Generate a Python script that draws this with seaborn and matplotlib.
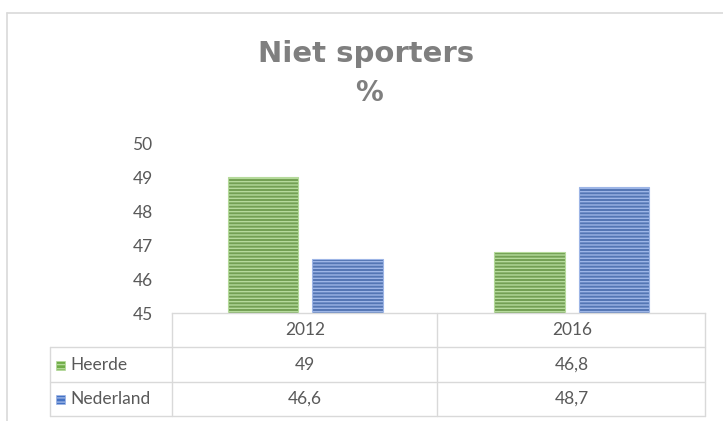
import pandas as pd
import seaborn as sns
import matplotlib.pyplot as plt
from matplotlib.patches import Rectangle
from matplotlib.lines import Line2D
from matplotlib.transforms import blended_transform_factory

# data
jaren = ['2012', '2016']
heerde = [49, 46.8]
nederland = [46.6, 48.7]
regios = ['Heerde', 'Nederland']
kleuren = ['#70AD47', '#4472C4']
streep = ['#B5DA9B', '#9DB5E6']

W, H = 723, 421

def fx(x):
    return x / W

def fy(y):
    return 1 - y / H

df = pd.DataFrame({
    'jaar': jaren * 2,
    'regio': [regios[0]] * len(jaren) + [regios[1]] * len(jaren),
    'pct': heerde + nederland,
})

sns.set_style('white')
plt.rcParams['font.family'] = ['Lato', 'DejaVu Sans']
plt.rcParams['hatch.linewidth'] = 1.0

fig = plt.figure(figsize=(W / 100, H / 100), dpi=100)
ax = fig.add_axes([fx(172), fy(313), fx(705) - fx(172), fy(143) - fy(313)])

sns.barplot(data=df, x='jaar', y='pct', hue='regio', palette=kleuren,
            width=0.634, gap=0.167, ax=ax, legend=False)

# horizontal stripe pattern like the Excel fill
for i, regio in enumerate(regios):
    for bar in ax.containers[i]:
        bar.set_hatch('-----')
        bar.set_edgecolor(streep[i])
        bar.set_linewidth(0.8)

ax.set_ylim(45, 50)
ax.set_xlim(-0.5, 1.5)
ax.set_yticks(range(45, 51))
ax.tick_params(axis='y', length=0, pad=14, labelsize=12.5, labelcolor='#595959')
ax.set_xticks([])
ax.set_xlabel('')
ax.set_ylabel('')
for s in ['left', 'right', 'top']:
    ax.spines[s].set_visible(False)
ax.spines['bottom'].set_color('#D9D9D9')
ax.spines['bottom'].set_linewidth(1)

# outer frame of the chart
fig.add_artist(Line2D([fx(7), fx(7)], [fy(13), 0], transform=fig.transFigure,
                      color='#D9D9D9', lw=1.2))
fig.add_artist(Line2D([fx(7), 1], [fy(13), fy(13)], transform=fig.transFigure,
                      color='#D9D9D9', lw=1.2))

# title
fig.text(fx(366), fy(54), 'Niet sporters', ha='center', va='center',
         fontsize=21, fontweight='bold', color='#7F7F7F', family='DejaVu Sans')
fig.text(fx(369), fy(93), '%', ha='center', va='center',
         fontsize=20, fontweight='bold', color='#7F7F7F', family='DejaVu Sans')

# data table under the plot
lc = '#D9D9D9'
tr = fig.transFigure
rows_y = [313, 347, 382, 416]
for y in rows_y[1:]:
    fig.add_artist(Line2D([fx(50), fx(705)], [fy(y), fy(y)], transform=tr, color=lc, lw=1))
fig.add_artist(Line2D([fx(50), fx(50)], [fy(347), fy(416)], transform=tr, color=lc, lw=1))
for x in [172, 437, 705]:
    fig.add_artist(Line2D([fx(x), fx(x)], [fy(313), fy(416)], transform=tr, color=lc, lw=1))

bt = blended_transform_factory(ax.transData, fig.transFigure)
rij_y = [fy(365), fy(399)]
for j, jaar in enumerate(jaren):
    ax.text(j, fy(330), jaar, transform=bt, ha='center', va='center',
            fontsize=12.5, color='#595959', clip_on=False)
    for r, waarden in enumerate([heerde, nederland]):
        label = f'{waarden[j]:g}'.replace('.', ',')
        ax.text(j, rij_y[r], label, transform=bt, ha='center', va='center',
                fontsize=12.5, color='#595959', clip_on=False)

for r, regio in enumerate(regios):
    fig.add_artist(Rectangle((fx(56), rij_y[r] - 4.5 / H), 9 / W, 9 / H, transform=tr,
                             facecolor=kleuren[r], edgecolor=streep[r], hatch='----', lw=0.5))
    fig.text(fx(70), rij_y[r], regio, ha='left', va='center',
             fontsize=12.5, color='#595959')

fig.savefig('out.png', dpi=100)
